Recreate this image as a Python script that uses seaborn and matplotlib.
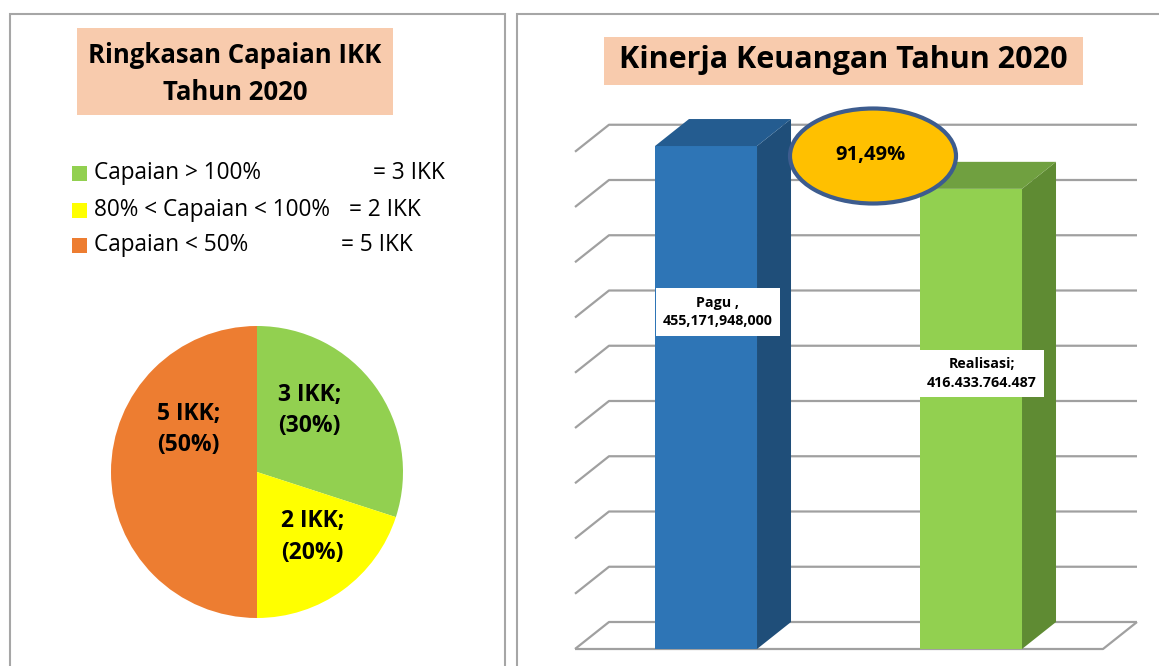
import numpy as np
import pandas as pd
import matplotlib
matplotlib.use("Agg")
import matplotlib.pyplot as plt
from matplotlib.patches import Rectangle, Ellipse, Polygon
import seaborn as sns

# ---------------- data ----------------
pie_categories = ["Capaian > 100%", "80% < Capaian < 100%", "Capaian < 50%"]
pie_counts = [3, 2, 5]
pie_colors = ["#92D050", "#FFFF00", "#ED7D31"]

bar_categories = ["Pagu", "Realisasi"]
bar_values = [455171948000, 416433764487]
bar_front = ["#2E75B6", "#92D050"]
bar_side = ["#1F4E79", "#5F8B33"]
bar_top = ["#245C90", "#70A040"]

left_title = "Ringkasan Capaian IKK\nTahun 2020"
right_title = "Kinerja Keuangan Tahun 2020"
grid_values = [0, 50e9, 100e9, 150e9, 200e9, 250e9, 300e9, 350e9, 400e9, 450e9]

# ---------------- setup ----------------
W, H = 1159, 666
sns.set_style("white")
plt.rcParams['font.family'] = ['Open Sans', 'DejaVu Sans']
fig = plt.figure(figsize=(W / 100, H / 100), dpi=100)
fig.patch.set_facecolor("white")


def fx(x):
    return x / W


def fy(y):
    return 1 - y / H


def add_axes_px(x0, y0, x1, y1):
    return fig.add_axes([x0 / W, 1 - y1 / H, (x1 - x0) / W, (y1 - y0) / H])


def rect_px(x0, y0, x1, y1, **kw):
    r = Rectangle((fx(x0), fy(y1)), (x1 - x0) / W, (y1 - y0) / H,
                  transform=fig.transFigure, **kw)
    fig.add_artist(r)
    return r


# panel borders
rect_px(10, 14, 505, 700, fill=False, ec="#A6A6A6", lw=1.5)
rect_px(517, 14, 1200, 700, fill=False, ec="#A6A6A6", lw=1.5)

# ---------------- left panel ----------------
rect_px(77, 28, 393, 115, fc="#F8CBAD", ec="none")
fig.text(fx(235), fy(74), left_title, ha="center", va="center",
         fontsize=18.5, fontweight="bold", linespacing=1.5, color="black")

legend_rows_y = [173, 210, 245]
legend_eq_x = [373, 349, 341]
for cat, n, c, yy, ex in zip(pie_categories, pie_counts, pie_colors, legend_rows_y, legend_eq_x):
    rect_px(72, yy - 7.5, 87, yy + 7.5, fc=c, ec="none")
    fig.text(fx(94), fy(yy), cat, ha="left", va="center", fontsize=16.3, color="black")
    fig.text(fx(ex), fy(yy), f"= {n} IKK", ha="left", va="center", fontsize=16.3, color="black")

axp = add_axes_px(111, 326, 403, 618)
wedges, _ = axp.pie(pie_counts, colors=pie_colors, startangle=90, counterclock=False,
                    radius=1, wedgeprops=dict(linewidth=0))
axp.set_xlim(-1, 1)
axp.set_ylim(-1, 1)
axp.set_aspect("equal")
axp.axis("off")
total = sum(pie_counts)
pie_label_pos = [(0.36, 0.42), (0.38, -0.445), (-0.47, 0.29)]
for n, (lx, ly) in zip(pie_counts, pie_label_pos):
    axp.text(lx, ly, f"{n} IKK;\n({n / total:.0%})", ha="center", va="center",
             fontsize=16.5, fontweight="bold", linespacing=1.4, color="black")

# ---------------- right panel ----------------
rect_px(604, 37, 1083, 85, fc="#F8CBAD", ec="none")
fig.text(fx(843), fy(60), right_title, ha="center", va="center",
         fontsize=22, fontweight="bold", color="black")

axb = add_axes_px(575, 100, 1140, 649)
df = pd.DataFrame({"kategori": bar_categories, "nilai": bar_values})
sns.barplot(data=df, x="kategori", y="nilai", hue="kategori", palette=bar_front,
            width=0.385, saturation=1, legend=False, ax=axb, zorder=3)
xmin = -(706 - 575) / 265
xmax = xmin + 565 / 265
ymax = 549 / 1.105 * 1e9
axb.set_xlim(xmin, xmax)
axb.set_ylim(0, ymax)
axb.axis("off")

ppx = ymax / 549           # value per pixel
ddx = 34 / 265             # depth offset in category units
ddy = 27 * ppx             # depth offset in value units
xf0 = xmin
xf1 = (1103 - 706) / 265
gcol = "#A0A0A0"
for g in grid_values:
    axb.plot([xf0, xf0 + ddx, xf1 + ddx], [g, g + ddy, g + ddy], color=gcol,
             lw=1.6, clip_on=False, zorder=1, solid_capstyle="butt")
axb.plot([xf0, xf1, xf1 + ddx], [0, 0, ddy], color=gcol, lw=1.6,
         clip_on=False, zorder=1, solid_capstyle="butt")

for p, sc, tc in zip(axb.patches, bar_side, bar_top):
    xl = p.get_x()
    xr = xl + p.get_width()
    v = p.get_height()
    p.set_linewidth(0)
    axb.add_patch(Polygon([(xr, 0), (xr + ddx, ddy), (xr + ddx, v + ddy), (xr, v)],
                          closed=True, fc=sc, ec="none", zorder=3, clip_on=False))
    axb.add_patch(Polygon([(xl, v), (xr, v), (xr + ddx, v + ddy), (xl + ddx, v + ddy)],
                          closed=True, fc=tc, ec="none", zorder=3, clip_on=False))

label_texts = [
    f"{bar_categories[0]} ,\n{bar_values[0]:,}",
    f"{bar_categories[1]};\n{bar_values[1]:,}".replace(",", "."),
]
label_pos = [(0.045, 305e9), (1.04, 249e9)]
for t, (lx, ly) in zip(label_texts, label_pos):
    axb.text(lx, ly, t, ha="center", va="center", fontsize=10.3, fontweight="bold",
             linespacing=1.45, color="black", zorder=5,
             bbox=dict(boxstyle="square,pad=0.5", fc="white", ec="none"))

# ratio oval
pct = bar_values[1] / bar_values[0] * 100
ell = Ellipse((fx(873), fy(156)), 166 / W, 95 / H, transform=fig.transFigure,
              fc="#FFC000", ec="#3D5C8E", lw=3)
fig.add_artist(ell)
fig.text(fx(871), fy(155), f"{pct:.2f}%".replace(".", ","), ha="center", va="center",
         fontsize=14.5, fontweight="bold", color="black")

fig.savefig("out.png", dpi=100)
